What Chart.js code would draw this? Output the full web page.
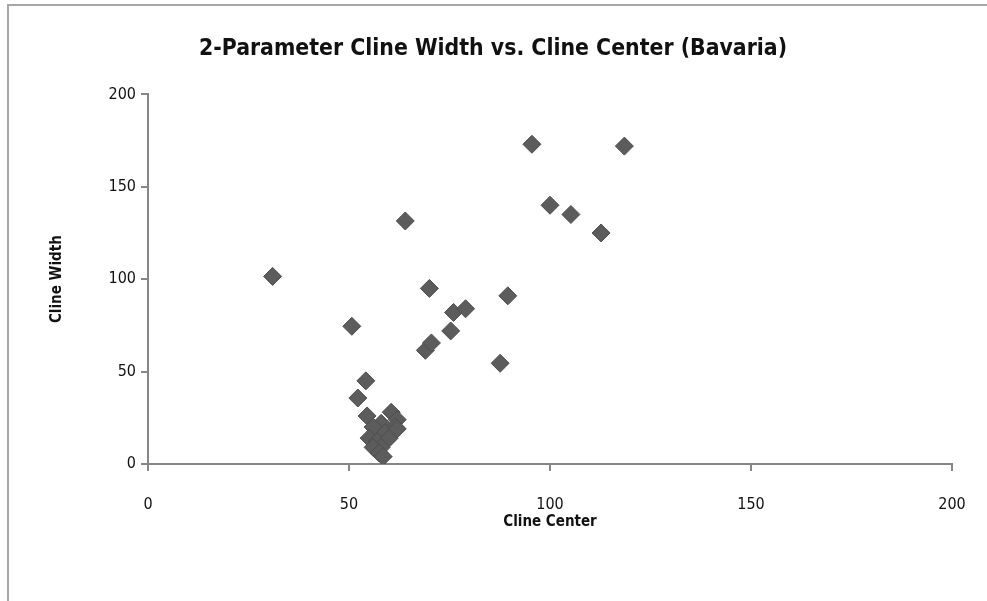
<!DOCTYPE html>
<html>
<head>
<meta charset="utf-8">
<script src="https://cdn.jsdelivr.net/npm/chart.js@4"></script>
<style>
    body { margin: 0; background: #fff; overflow: hidden; }
    #frame {
        position: absolute; left: 7px; top: 4px; width: 1000px; height: 620px;
        border-left: 2px solid #a6a6a6; border-top: 2px solid #a6a6a6;
    }
    #wrap { position: absolute; left: 0; top: 0; width: 987px; height: 601px; }
</style>
</head>
<body>
<div id="frame"></div>
<div id="wrap"><canvas id="myChart" width="987" height="601"></canvas></div>
<script>
// Cline center (x) and cline width (y)
let clineCenter = [31, 50.7, 54.2, 52.2, 64, 95.5, 118.5, 100, 105.2, 112.7, 70, 89.5, 76, 79, 75.3, 69, 70.5, 87.6,
    54.5, 60.5, 62, 58, 56, 61.5, 59, 55, 57, 60, 58, 56, 57.5, 58.5, 62];
let clineWidth = [101.5, 74.5, 45, 35.7, 131.5, 173, 172, 140, 135, 125, 95, 91, 82, 84, 72, 61.5, 65.5, 54.5,
    26, 28, 24, 22, 20, 20, 17, 14, 12, 14, 9, 9, 6, 4, 19];
let xTicks = [0, 50, 100, 150, 200];
let yTicks = [0, 50, 100, 150, 200];

let font = "'DejaVu Sans Condensed', sans-serif";
let axisColor = '#868686';

window.addEventListener("DOMContentLoaded", () => {
    const ctx = document.getElementById('myChart');
    const points = clineCenter.map((c, i) => ({ x: c, y: clineWidth[i] }));

    new Chart(ctx, {
        type: 'scatter',
        data: {
            datasets: [{
                data: points,
                pointStyle: 'rectRot',
                pointRadius: 9,
                pointHoverRadius: 9,
                backgroundColor: '#5c5c5c',
                borderColor: '#4e4e4e',
                borderWidth: 1
            }]
        },
        options: {
            responsive: false,
            animation: false,
            layout: { padding: { left: 34, right: 35, bottom: 70 } },
            plugins: {
                legend: { display: false },
                tooltip: { enabled: false },
                title: {
                    display: true,
                    text: '2-Parameter Cline Width vs. Cline Center (Bavaria)',
                    color: '#111',
                    font: { family: font, size: 22.8, weight: 'bold' },
                    padding: { top: 35, bottom: 32 }
                }
            },
            scales: {
                x: {
                    type: 'linear',
                    min: 0, max: 200,
                    afterBuildTicks: s => { s.ticks = xTicks.map(v => ({ value: v })); },
                    afterFit: s => {
                        s.height = 67;
                        // keep the plot edge fixed, the label overhang fits in the layout padding
                        s.paddingLeft = 0;
                        s.paddingRight = 0;
                    },
                    border: { color: axisColor, width: 2 },
                    grid: { drawOnChartArea: false, drawTicks: true, tickLength: 7, color: axisColor, lineWidth: 2 },
                    ticks: { color: '#111', font: { family: font, size: 16 }, padding: 24 },
                    title: {
                        display: true, text: 'Cline Center', color: '#111',
                        font: { family: font, size: 15, weight: 'bold' }, padding: 0
                    }
                },
                y: {
                    type: 'linear',
                    min: 0, max: 200,
                    afterBuildTicks: s => { s.ticks = yTicks.map(v => ({ value: v })); },
                    afterFit: s => { s.width = 114; },
                    border: { color: axisColor, width: 2 },
                    grid: { drawOnChartArea: false, drawTicks: true, tickLength: 7, color: axisColor, lineWidth: 2 },
                    ticks: { color: '#111', font: { family: font, size: 16 }, padding: 5 },
                    title: {
                        display: true, text: 'Cline Width', color: '#111',
                        font: { family: font, size: 15, weight: 'bold' }, padding: { top: 14, bottom: 0 }
                    }
                }
            }
        }
    });
});
</script>
</body>
</html>
